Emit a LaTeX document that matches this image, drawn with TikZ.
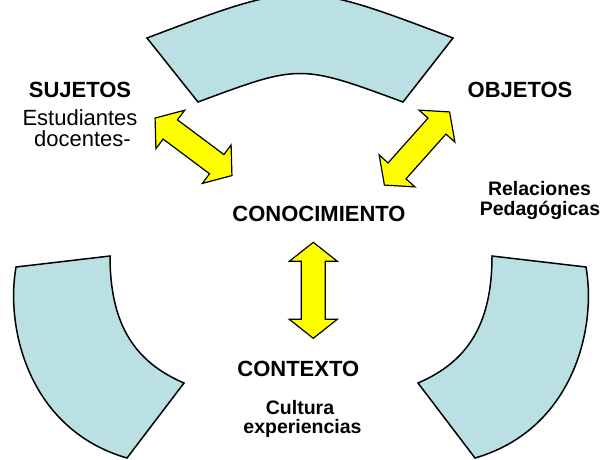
\documentclass[tikz,border=0pt]{standalone}
\usepackage{fontspec}
\setmainfont{Liberation Sans}
\definecolor{segfill}{RGB}{187,224,227}
\definecolor{arrowyellow}{RGB}{255,255,0}
\tikzset{
  segment/.style={draw=black, line width=1.5pt, fill=segfill, line join=miter},
  arrowbody/.style={draw=black, line width=1.2pt, fill=arrowyellow, line join=miter},
  pics/dblarrow/.style={code={
    \draw[arrowbody] (#1,0) -- (#1-19,24) -- (#1-19,12) -- (-#1+19,12) -- (-#1+19,24)
      -- (-#1,0) -- (-#1+19,-24) -- (-#1+19,-12) -- (#1-19,-12) -- (#1-19,-24) -- cycle;
  }},
  hdr/.style={font=\fontsize{22}{26}\selectfont\bfseries, inner sep=0pt, anchor=base},
  reg/.style={font=\fontsize{22}{26}\selectfont, inner sep=0pt, anchor=base},
  sm/.style={font=\fontsize{19.5}{23}\selectfont\bfseries, inner sep=0pt, anchor=base},
}
\begin{document}
\begin{tikzpicture}[x=1pt, y=-1pt]
\useasboundingbox (0,0) rectangle (602,459);
% ring segments
\draw[segment] (147,38) .. controls (300,-20) .. (453,38) -- (403,102)
  .. controls (300,64) .. (198,102) -- cycle;
\draw[segment] (16,267) .. controls (5,330) and (30,430) .. (127,458) -- (184,383)
  .. controls (135,362) and (110,325) .. (110,256) -- cycle;
\draw[segment] (586,267) .. controls (597,330) and (572,430) .. (475,458) -- (418,383)
  .. controls (467,362) and (492,325) .. (492,256) -- cycle;
% block arrows
\pic[rotate=-36.8] at (193.5,146.8) {dblarrow=48};
\pic[rotate=48.3] at (417,148.5) {dblarrow=49};
\pic[rotate=90] at (313.3,290.3) {dblarrow=48};
% texts
\node[hdr] (suj) at (80,97) {SUJETOS};
\node[reg] (est) at (80,125) {Estudiantes};
\node[reg] (doc) at (82.5,146) {docentes-};
\node[hdr] (obj) at (520,97) {OBJETOS};
\node[sm] (rel) at (539.5,195) {Relaciones};
\node[sm] (ped) at (540,215) {Pedagógicas};
\node[hdr] (con) at (319,221.7) {CONOCIMIENTO};
\node[hdr] (ctx) at (298.3,376) {CONTEXTO};
\node[sm] (cul) at (300,414) {Cultura};
\node[sm] (exper) at (302.5,433) {experiencias};
\end{tikzpicture}
\end{document}
